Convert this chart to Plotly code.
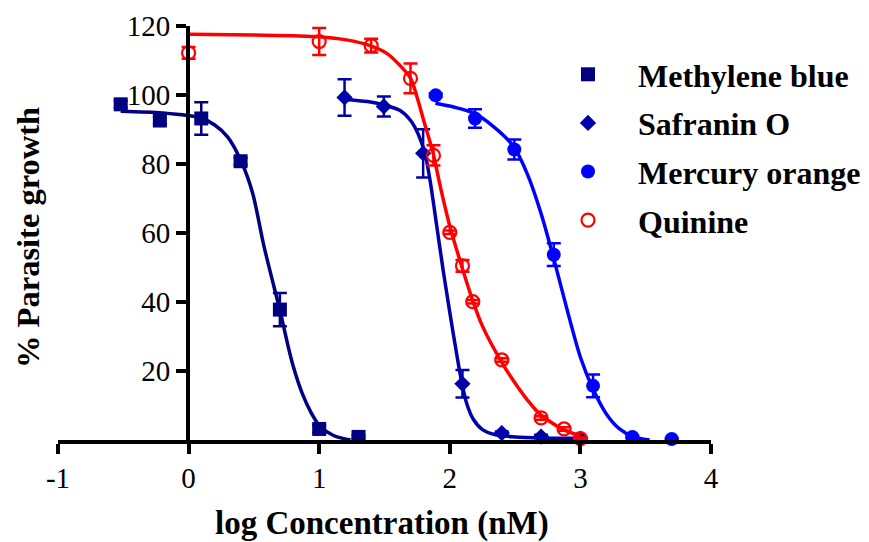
import plotly.graph_objects as go

# ---------------- data ----------------
series_names = ["Methylene blue", "Safranin O", "Mercury orange", "Quinine"]

mb_x = [-0.52, -0.22, 0.097, 0.398, 0.699, 1.0, 1.301]
mb_y = [97.3, 92.6, 93.2, 80.8, 37.8, 3.2, 0.9]
mb_err = [1.0, 1.0, 4.7, 1.0, 4.8, 1.0, 0.5]

sa_x = [1.194, 1.495, 1.796, 2.097, 2.398, 2.699, 3.0]
sa_y = [99.3, 96.7, 83.1, 16.3, 2.0, 1.0, 0.4]
sa_err = [5.3, 2.9, 7.0, 4.0, 0.5, 0.5, 0.3]

mo_x = [1.892, 2.193, 2.494, 2.796, 3.097, 3.398, 3.699]
mo_y = [99.9, 93.2, 84.2, 53.7, 15.7, 0.9, 0.3]
mo_err = [0.5, 2.7, 2.9, 3.3, 3.3, 0.3, 0.3]

qu_x = [0.0, 1.0, 1.398, 1.699, 1.875, 2.0, 2.097, 2.176, 2.398, 2.699, 2.875, 3.0]
qu_y = [112.2, 115.5, 114.3, 104.8, 82.5, 60.2, 50.5, 40.1, 23.2, 6.4, 3.2, 0.4]
qu_err = [1.7, 3.9, 2.0, 4.3, 2.9, 0.5, 1.7, 0.5, 0.5, 0.5, 0.5, 0.3]

# fitted curves
mb_fit_x = [-0.52, -0.2, 0.09, 0.2, 0.3, 0.4, 0.49, 0.575, 0.65, 0.7, 0.76, 0.8, 0.87, 0.94, 1.0, 1.11, 1.24]
mb_fit_y = [95.3, 94.8, 93.4, 91.3, 87.8, 81.0, 71.6, 56.5, 45.0, 37.5, 27.5, 21.5, 13.5, 7.8, 4.3, 1.3, 0.0]

sa_fit_x = [1.19, 1.37, 1.49, 1.62, 1.70, 1.76, 1.81, 1.85, 1.90, 1.95, 2.0, 2.05, 2.09, 2.13, 2.18, 2.25, 2.35, 2.5, 2.7, 3.0]
sa_fit_y = [98.7, 98.1, 97.2, 95.5, 92.6, 88.5, 83.0, 75.0, 62.0, 49.0, 37.0, 25.5, 17.0, 10.5, 6.0, 3.0, 1.5, 0.9, 0.6, 0.5]

mo_fit_x = [1.89, 2.03, 2.18, 2.33, 2.49, 2.60, 2.70, 2.80, 2.90, 3.0, 3.10, 3.20, 3.30, 3.40, 3.53]
mo_fit_y = [97.6, 96.5, 94.8, 91.0, 85.0, 76.5, 65.5, 52.0, 37.5, 24.0, 14.5, 7.5, 3.2, 1.0, 0.0]

qu_fit_x = [0.0, 0.5, 1.0, 1.22, 1.39, 1.52, 1.62, 1.70, 1.75, 1.80, 1.87, 1.93, 2.0, 2.09, 2.17, 2.25, 2.39, 2.49, 2.59, 2.69, 2.87, 3.0]
qu_fit_y = [117.6, 117.4, 116.9, 115.9, 114.3, 112.0, 108.5, 104.8, 99.3, 92.6, 83.5, 73.0, 62.0, 50.5, 41.0, 33.0, 23.0, 17.0, 11.8, 7.5, 3.0, 1.2]

x_ticks = [-1, 0, 1, 2, 3, 4]
y_ticks = [20, 40, 60, 80, 100, 120]

# ---------------- styling ----------------
colors = ["#000080", "#0000AA", "#0000FF", "#FF0000"]
symbols = ["square", "diamond", "circle", "circle-open"]
sizes = [14, 12.5, 14, 13]
FONT = "Liberation Serif, Times New Roman, serif"

fig = go.Figure()

points = [(mb_x, mb_y, mb_err), (sa_x, sa_y, sa_err), (mo_x, mo_y, mo_err), (qu_x, qu_y, qu_err)]
fits = [(mb_fit_x, mb_fit_y), (sa_fit_x, sa_fit_y), (mo_fit_x, mo_fit_y), (qu_fit_x, qu_fit_y)]

for i, name in enumerate(series_names):
    fx, fy = fits[i]
    fig.add_trace(go.Scatter(
        x=fx, y=fy, mode="lines", line=dict(color=colors[i], width=3.5, shape="spline", smoothing=0.8),
        showlegend=False, hoverinfo="skip", legendgroup=name,
    ))
    px, py, pe = points[i]
    if symbols[i] == "circle-open":
        marker = dict(color=colors[i], symbol="circle-open", size=sizes[i], line=dict(color=colors[i], width=2.2))
    else:
        marker = dict(color=colors[i], symbol=symbols[i], size=sizes[i], line=dict(width=0))
    fig.add_trace(go.Scatter(
        x=px, y=py, mode="markers", name=name, marker=marker,
        error_y=dict(type="data", array=pe, visible=True, color=colors[i], thickness=2.5, width=7),
        cliponaxis=False, legendgroup=name,
    ))

# the page body adds an 8px offset; margins below compensate for it
W, H = 869, 542
ml, mr, mt, mb = 50, 166, 18, 110
pw = W - ml - mr
ph = H - mt - mb

fig.update_layout(
    width=W, height=H,
    margin=dict(l=ml, r=mr, t=mt, b=mb, pad=0, autoexpand=False),
    paper_bgcolor="white", plot_bgcolor="white",
    font=dict(family=FONT, color="black", size=29),
    xaxis=dict(range=[-1, 4], tickvals=x_ticks, ticktext=[str(v) for v in x_ticks],
               automargin=False,
               showline=True, linecolor="black", linewidth=4, ticks="outside", ticklen=10,
               tickwidth=4, tickcolor="black", showgrid=False, zeroline=False,
               ticklabelstandoff=-1,
               tickfont=dict(family=FONT, size=29, color="black")),
    yaxis=dict(range=[0, 120], tickvals=y_ticks, ticktext=[str(v) for v in y_ticks],
               automargin=False,
               anchor="free", position=(180 - ml) / pw,
               showline=True, linecolor="black", linewidth=4, ticks="outside", ticklen=10,
               tickwidth=4, tickcolor="black", showgrid=False, zeroline=False,
               tickfont=dict(family=FONT, size=29, color="black")),
    legend=dict(x=(530 - ml) / pw, y=(432 - 39) / ph, xanchor="left", yanchor="top",
                font=dict(family=FONT, size=32, color="black", weight="bold"),
                itemwidth=90, tracegroupgap=4, bgcolor="rgba(0,0,0,0)"),
    showlegend=True,
)

fig.add_annotation(text="log Concentration (nM)", xref="paper", yref="paper",
                   x=(374 - ml) / pw, y=(432 - 515) / ph, xanchor="center", yanchor="middle",
                   showarrow=False, font=dict(family=FONT, size=33, color="black", weight="bold"))
fig.add_annotation(text="% Parasite growth", xref="paper", yref="paper",
                   x=(20 - ml) / pw, y=(432 - 230) / ph, xanchor="center", yanchor="middle",
                   textangle=-90, showarrow=False,
                   font=dict(family=FONT, size=32.5, color="black", weight="bold"))

fig.write_html("out.html")
